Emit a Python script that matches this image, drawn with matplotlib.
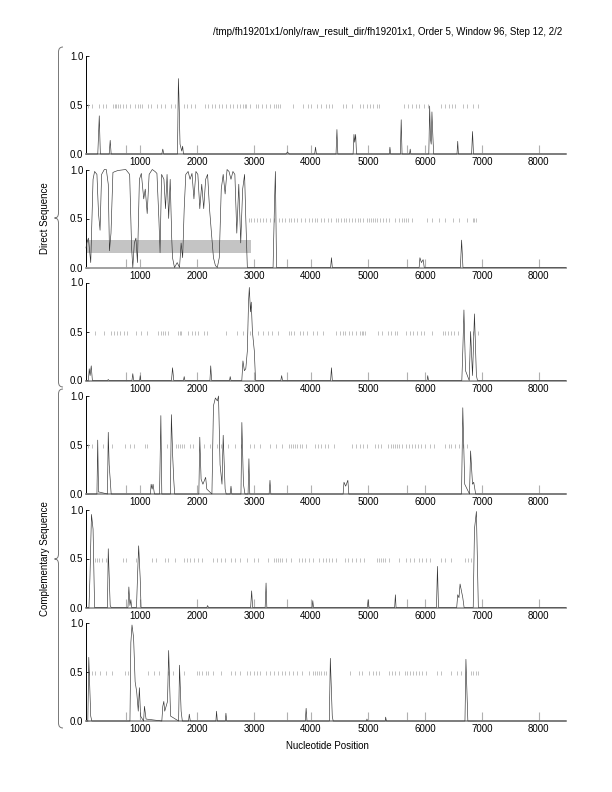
import matplotlib.pyplot as plt
from matplotlib.path import Path
from matplotlib.patches import PathPatch, Rectangle

plt.rcParams['font.family'] = ['Liberation Sans', 'DejaVu Sans']

# === data ===
TITLE = "/tmp/fh19201x1/only/raw_result_dir/fh19201x1, Order 5, Window 96, Step 12, 2/2"
X_MIN, X_MAX = 48, 8480
x_ticks = [1000, 2000, 3000, 4000, 5000, 6000, 7000, 8000]
x_minor = [750, 3580, 5680]
y_ticks = [0.0, 0.5, 1.0]
y_labels = ["0.0", "0.5", "1.0"]

# coding potential curves (vertices)
dir1_curve = [(48, 0), (255, 0), (281, 0.39), (300, 0), (455, 0), (473, 0.14), (490, 0), (1380, 0), (1397, 0.05),
              (1415, 0), (1655, 0), (1671, 0.77), (1680, 0.6), (1700, 0.1), (1730, 0.03), (1746, 0.08), (1760, 0),
              (3560, 0), (3587, 0.02), (3620, 0), (4065, 0), (4080, 0.07), (4095, 0), (4440, 0), (4456, 0.25),
              (4472, 0), (4740, 0), (4755, 0.2), (4768, 0.12), (4785, 0.2), (4800, 0), (5375, 0), (5387, 0.07),
              (5400, 0), (5570, 0), (5585, 0.35), (5600, 0), (5732, 0), (5743, 0.05), (5755, 0), (6070, 0),
              (6085, 0.49), (6100, 0.15), (6112, 0.1), (6125, 0.43), (6140, 0.2), (6155, 0), (6565, 0),
              (6578, 0.13), (6590, 0), (6822, 0), (6838, 0.23), (6855, 0), (8480, 0)]
dir2_curve = [(48, 0.2), (62, 0.25), (90, 0.3), (131, 0.05), (172, 0.9), (199, 0.98), (240, 0.95), (268, 0.55),
              (295, 0.38), (322, 0.95), (370, 1.0), (405, 1.0), (439, 0.85), (460, 0.17), (487, 0.35), (521, 0.97),
              (562, 0.98), (610, 0.99), (747, 1.0), (815, 0.95), (849, 0.2), (870, 0.0), (897, 0.25), (925, 0.3),
              (952, 0.05), (986, 0.9), (1020, 0.96), (1062, 0.7), (1089, 0.8), (1123, 0.55), (1157, 0.95),
              (1212, 1.0), (1260, 0.98), (1294, 0.96), (1328, 0.5), (1349, 0.15), (1376, 0.95), (1417, 0.9),
              (1445, 0.6), (1472, 0.95), (1500, 0.5), (1527, 0.9), (1554, 0.3), (1568, 0.1), (1602, 0.0),
              (1650, 0.05), (1691, 0.0), (1719, 0.25), (1746, 0.1), (1773, 0.6), (1801, 0.95), (1842, 0.98),
              (1876, 0.9), (1910, 0.96), (1944, 0.7), (1979, 0.98), (2013, 0.95), (2047, 0.6), (2081, 0.85),
              (2116, 0.6), (2150, 0.9), (2184, 0.95), (2218, 0.6), (2252, 0.35), (2287, 0.1), (2321, 0.02),
              (2355, 0.0), (2389, 0.1), (2424, 0.8), (2458, 0.95), (2492, 0.75), (2526, 1.0), (2560, 0.98),
              (2595, 0.9), (2629, 0.98), (2663, 0.95), (2697, 0.35), (2732, 0.85), (2766, 0.25), (2800, 0.8),
              (2834, 0.95), (2855, 0.5), (2882, 0.0), (3334, 0), (3361, 0.7), (3375, 0.98), (3395, 0), (4345, 0),
              (4360, 0.1), (4375, 0), (5900, 0), (5914, 0.1), (5940, 0.05), (5970, 0.08), (5990, 0), (6625, 0),
              (6646, 0.28), (6670, 0), (8480, 0)]
dir3_curve = [(48, 0), (90, 0), (105, 0.12), (120, 0.05), (140, 0.15), (160, 0), (425, 0), (439, 0.01), (455, 0),
              (855, 0), (870, 0.07), (885, 0), (990, 0), (1000, 0.05), (1012, 0), (1550, 0), (1568, 0.13),
              (1590, 0), (1760, 0), (1773, 0.04), (1785, 0), (2225, 0), (2239, 0.15), (2255, 0), (2570, 0),
              (2581, 0.04), (2595, 0), (2785, 0), (2805, 0.2), (2830, 0.1), (2855, 0.12), (2882, 0.3), (2903, 0.8),
              (2917, 0.95), (2937, 0.7), (2951, 0.8), (2971, 0.5), (3005, 0.3), (3026, 0), (3470, 0), (3485, 0.05),
              (3500, 0), (4345, 0), (4360, 0.13), (4375, 0), (6040, 0), (6051, 0.05), (6065, 0), (6650, 0),
              (6667, 0.3), (6687, 0.72), (6715, 0.1), (6780, 0), (6804, 0.5), (6838, 0.05), (6872, 0.68),
              (6906, 0.05), (6925, 0), (8480, 0)]
comp1_curve = [(48, 0), (240, 0), (254, 0.55), (268, 0.02), (281, 0.02), (425, 0), (439, 0.63), (455, 0.3),
               (473, 0.15), (490, 0), (1180, 0), (1192, 0.1), (1210, 0.05), (1226, 0.1), (1250, 0), (1340, 0),
               (1363, 0.8), (1380, 0), (1530, 0), (1548, 0.81), (1570, 0.4), (1589, 0.15), (1605, 0), (2030, 0),
               (2047, 0.58), (2070, 0.15), (2102, 0.1), (2150, 0.17), (2170, 0.05), (2260, 0), (2287, 0.9),
               (2321, 0.98), (2355, 0.95), (2376, 1.0), (2403, 0.3), (2437, 0.1), (2458, 0.6), (2492, 0.05),
               (2510, 0), (2580, 0), (2595, 0.08), (2610, 0), (2770, 0), (2786, 0.73), (2814, 0.1), (2840, 0),
               (2895, 0), (2910, 0.36), (2925, 0), (3265, 0), (3280, 0.14), (3295, 0), (4565, 0), (4580, 0.12),
               (4610, 0.08), (4648, 0.14), (4665, 0), (6645, 0), (6667, 0.88), (6701, 0.1), (6785, 0),
               (6804, 0.44), (6838, 0.1), (6859, 0.12), (6893, 0), (8480, 0)]
comp2_curve = [(48, 0), (100, 0), (117, 0.3), (144, 0.95), (172, 0.8), (199, 0), (425, 0), (439, 0.6), (473, 0.02),
               (490, 0), (785, 0), (801, 0.21), (820, 0.02), (836, 0.08), (850, 0), (935, 0), (952, 0.3),
               (973, 0.63), (1000, 0.3), (1015, 0), (2170, 0), (2184, 0.02), (2200, 0), (2940, 0), (2958, 0.17),
               (2975, 0), (3195, 0), (3211, 0.25), (3225, 0), (4020, 0), (4032, 0.07), (4045, 0), (4990, 0),
               (5004, 0.08), (5020, 0), (5470, 0), (5483, 0.13), (5495, 0), (6205, 0), (6222, 0.42), (6240, 0),
               (6560, 0), (6578, 0.13), (6600, 0.1), (6619, 0.24), (6667, 0.1), (6690, 0), (6850, 0), (6872, 0.8),
               (6906, 0.98), (6940, 0), (8480, 0)]
comp3_curve = [(48, 0), (80, 0), (97, 0.65), (131, 0.05), (150, 0), (820, 0), (836, 0.8), (856, 0.98), (884, 0.85),
               (911, 0.4), (938, 0.3), (966, 0.1), (986, 0.34), (1007, 0.05), (1060, 0), (1075, 0.15), (1103, 0.02),
               (1380, 0), (1397, 0.15), (1415, 0.2), (1431, 0.1), (1480, 0.2), (1500, 0.72), (1534, 0.05),
               (1675, 0), (1691, 0.57), (1719, 0.1), (1740, 0), (1850, 0), (1862, 0.07), (1880, 0), (2330, 0),
               (2341, 0.1), (2355, 0), (2495, 0), (2506, 0.08), (2520, 0), (3900, 0), (3915, 0.13), (3930, 0),
               (4322, 0), (4340, 0.64), (4374, 0.05), (4390, 0), (4975, 0), (4983, 0.02), (4995, 0), (5305, 0),
               (5312, 0.04), (5325, 0), (6705, 0), (6722, 0.63), (6756, 0), (8480, 0)]

# stop codon positions
dir1_stops = [76, 145, 268, 350, 391, 528, 562, 583, 610, 644, 699, 747, 815, 904, 966, 993, 1035, 1144, 1192, 1295,
              1363, 1431, 1534, 1603, 1774, 1828, 1890, 1965, 2136, 2198, 2253, 2308, 2390, 2445, 2513, 2581, 2629,
              2698, 2745, 2800, 2834, 2855, 2937, 3040, 3074, 3142, 3211, 3279, 3348, 3382, 3416, 3450, 3676, 3861,
              3950, 3998, 4114, 4169, 4272, 4320, 4374, 4566, 4614, 4717, 4867, 4922, 4990, 5045, 5093, 5161, 5195,
              5626, 5709, 5777, 5846, 5894, 5983, 6051, 6291, 6359, 6428, 6476, 6530, 6667, 6736, 6838, 6941]
dir2_stops = [2903, 2951, 3005, 3060, 3108, 3156, 3211, 3279, 3348, 3430, 3485, 3539, 3608, 3656, 3704, 3759, 3827,
              3895, 3964, 4019, 4066, 4114, 4169, 4224, 4292, 4360, 4443, 4477, 4525, 4580, 4614, 4662, 4717, 4771,
              4819, 4867, 4922, 4977, 5025, 5059, 5093, 5127, 5161, 5209, 5264, 5319, 5367, 5483, 5551, 5606, 5640,
              5675, 5709, 5777, 6030, 6120, 6256, 6359, 6496, 6599, 6736, 6838, 6872, 6907]
dir3_stops = [200, 371, 494, 542, 596, 644, 713, 761, 918, 1021, 1123, 1308, 1363, 1397, 1431, 1486, 1671, 1705,
              1719, 1842, 1910, 1958, 2013, 2116, 2170, 2506, 2698, 2814, 2937, 3074, 3156, 3245, 3313, 3416, 3608,
              3656, 3704, 3813, 3861, 3930, 4032, 4114, 4203, 4443, 4511, 4559, 4600, 4662, 4717, 4785, 4853, 4888,
              4922, 4956, 5182, 5250, 5353, 5401, 5469, 5504, 5675, 5743, 5798, 5866, 5935, 5983, 6120, 6325, 6359,
              6414, 6462, 6510, 6578, 6838, 6941]
comp1_stops = [76, 145, 350, 507, 733, 815, 898, 1076, 1124, 1466, 1623, 1657, 1692, 1726, 1774, 1876, 1924, 2116,
               2218, 2355, 2424, 2540, 2663, 2766, 2937, 3006, 3108, 3279, 3382, 3485, 3622, 3656, 3690, 3724, 3758,
               3806, 3840, 3909, 4066, 4121, 4183, 4238, 4306, 4409, 4717, 4785, 4853, 4922, 4990, 5127, 5182, 5230,
               5353, 5401, 5435, 5469, 5504, 5538, 5606, 5675, 5730, 5777, 5825, 5880, 5935, 6003, 6085, 6167, 6359,
               6428, 6462, 6530, 6599, 6667, 6736]
comp2_stops = [200, 234, 268, 323, 391, 692, 747, 918, 1212, 1281, 1431, 1486, 1603, 1774, 1828, 1876, 1945, 2013,
               2082, 2287, 2355, 2424, 2492, 2595, 2663, 2745, 2882, 3006, 3074, 3245, 3348, 3382, 3416, 3450, 3485,
               3553, 3656, 3793, 3840, 3895, 3964, 4032, 4135, 4203, 4272, 4320, 4374, 4443, 4594, 4648, 4717, 4785,
               4853, 4935, 5161, 5195, 5230, 5264, 5298, 5367, 5538, 5675, 5743, 5811, 5894, 5949, 6017, 6085, 6291,
               6359, 6462, 6702, 6756, 6804]
comp3_stops = [97, 145, 200, 302, 405, 507, 733, 781, 1144, 1247, 1329, 1486, 1568, 1774, 1999, 2034, 2082, 2150,
               2184, 2287, 2424, 2595, 2663, 2745, 2882, 2937, 3006, 3060, 3108, 3211, 3279, 3348, 3416, 3485, 3539,
               3622, 3690, 3758, 3840, 3964, 4032, 4066, 4101, 4135, 4169, 4224, 4272, 4683, 4840, 4888, 5025, 5093,
               5141, 5195, 5367, 5415, 5469, 5538, 5654, 5689, 5743, 5798, 5846, 5894, 5949, 6017, 6209, 6291, 6462,
               6564, 6633, 6804, 6838, 6893, 6941]

# predicted gene region (gray box in frame 2)
gene_start, gene_end = 48, 2950

curves = [dir1_curve, dir2_curve, dir3_curve, comp1_curve, comp2_curve, comp3_curve]
stops = [dir1_stops, dir2_stops, dir3_stops, comp1_stops, comp2_stops, comp3_stops]

# === layout (pixels) ===
W, H = 612, 792
AX_LEFT, AX_RIGHT = 86, 566
panel_tops = [56, 169.5, 282.5, 396, 509.5, 623]
PANEL_H = 98

fig = plt.figure(figsize=(W / 100, H / 100), dpi=100)

for i in range(6):
    top = panel_tops[i]
    ax = fig.add_axes([AX_LEFT / W, 1 - (top + PANEL_H) / H, (AX_RIGHT - AX_LEFT) / W, PANEL_H / H])
    ax.set_xlim(X_MIN, X_MAX)
    ax.set_ylim(0, 1)

    if i == 1:
        ax.add_patch(Rectangle((gene_start, 0.145), gene_end - gene_start, 0.14,
                               facecolor='#c4c4c4', edgecolor='none', zorder=1))

    ax.vlines(stops[i], 0.465, 0.51, color='#b0b0b0', lw=0.55, zorder=2)

    xs = [p[0] for p in curves[i]]
    ys = [p[1] for p in curves[i]]
    ax.plot(xs, ys, color='#333333', lw=0.45, clip_on=False, zorder=3)

    for s in ['top', 'right']:
        ax.spines[s].set_visible(False)
    ax.spines['left'].set_linewidth(0.7)
    ax.spines['bottom'].set_color('#9a9a9a')
    ax.spines['bottom'].set_linewidth(1.3)

    ax.set_xticks(x_ticks)
    ax.set_xticks(x_minor, minor=True)
    ax.tick_params(axis='x', which='both', direction='in', length=6.5, width=0.8,
                   color='#b0b0b0', labelsize=7, pad=2.5)
    ax.set_yticks(y_ticks)
    ax.set_yticklabels(y_labels)
    ax.tick_params(axis='y', direction='in', length=2.5, width=0.6, labelsize=7, pad=2)

# === braces and labels ===
ov = fig.add_axes([0, 0, 1, 1])
ov.set_xlim(0, W)
ov.set_ylim(H, 0)
ov.axis('off')


def brace(top, tip, bottom, x=58.5, dx=4.5):
    verts = [(x + dx, top), (x, top), (x, top + 5),
             (x, tip - 5), (x, tip), (x - 4, tip),
             (x, tip), (x, tip + 5),
             (x, bottom - 5), (x, bottom), (x + dx, bottom)]
    codes = [Path.MOVETO, Path.CURVE3, Path.CURVE3,
             Path.LINETO, Path.CURVE3, Path.CURVE3,
             Path.CURVE3, Path.CURVE3,
             Path.LINETO, Path.CURVE3, Path.CURVE3]
    ov.add_patch(PathPatch(Path(verts, codes), facecolor='none', edgecolor='#777777', lw=0.7))


brace(47, 218, 387)
brace(389, 559, 728)
ov.text(45, 218, "Direct Sequence", rotation=90, ha='center', va='center', fontsize=7)
ov.text(45, 559, "Complementary Sequence", rotation=90, ha='center', va='center', fontsize=7)

fig.text(562 / W, 1 - 32 / H, TITLE, ha='right', va='center', fontsize=7)
fig.text(327 / W, 1 - 746 / H, "Nucleotide Position", ha='center', va='center', fontsize=7)

plt.savefig("out.png", dpi=100)
